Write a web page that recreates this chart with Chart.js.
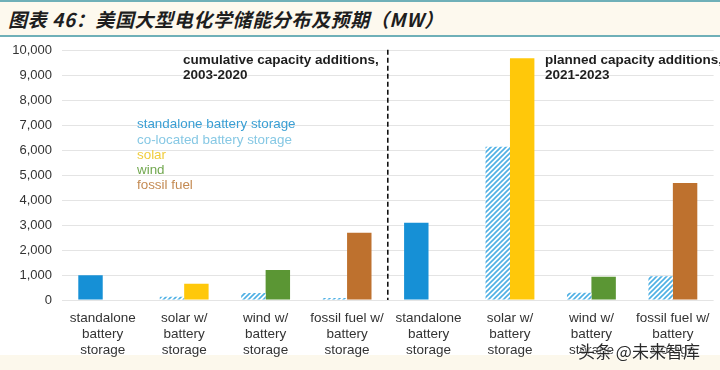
<!DOCTYPE html>
<html>
<head>
<meta charset="utf-8">
<script src="https://cdn.jsdelivr.net/npm/chart.js@4/dist/chart.umd.min.js"></script>
<style>
html,body{margin:0;padding:0;width:720px;height:370px;overflow:hidden;background:#fcf8ec;}
#hdr{position:absolute;left:0;top:0;width:720px;height:33px;border-top:2px solid #6fb0b8;border-bottom:2px solid #6fb0b8;background:#fdf9ee;box-sizing:content-box;}
#hdr span{position:absolute;left:8px;top:3px;font-family:"Noto Sans CJK SC","Liberation Sans",sans-serif;font-weight:bold;font-style:italic;font-size:19px;color:#1e1e1e;letter-spacing:0.6px;}
#panel{position:absolute;left:0;top:37px;width:720px;height:318px;background:#fff;}
#wrap{position:absolute;left:0;top:33px;width:720px;height:337px;}
#wm{position:absolute;left:578px;top:338px;font-family:"Noto Sans CJK SC",sans-serif;font-size:17px;color:#2a2a2a;text-shadow:0 0 2px #fff,0 0 2px #fff;}
</style>
</head>
<body>
<div id="hdr"><span>图表 46：美国大型电化学储能分布及预期（MW）</span></div>
<div id="panel"></div>
<div id="wrap"><canvas id="c" width="720" height="337"></canvas></div>
<div id="wm">头条 @未来智库</div>
<script>
const categories = [
  ["standalone","battery","storage"],
  ["solar w/","battery","storage"],
  ["wind w/","battery","storage"],
  ["fossil fuel w/","battery","storage"],
  ["standalone","battery","storage"],
  ["solar w/","battery","storage"],
  ["wind w/","battery","storage"],
  ["fossil fuel w/","battery","storage"]
];
// left bar in each group: standalone (solid) or co-located battery storage (hatched)
const batteryValues = [990, 130, 280, 80, 3100, 6150, 290, 950];
const isStandalone = [true, false, false, false, true, false, false, false];
// right bar in each group: paired generation type
const generationValues = [0, 650, 1200, 2700, 0, 9700, 930, 4700];
const generationType = ["none","solar","wind","fossil","none","solar","wind","fossil"];
const yTicks = [0,1000,2000,3000,4000,5000,6000,7000,8000,9000,10000];
const legendItems = ["standalone battery storage","co-located battery storage","solar","wind","fossil fuel"];
const periodLabels = [["cumulative capacity additions,","2003-2020"],["planned capacity additions,","2021-2023"]];

const COLORS = {standalone:"#1690d6", hatch:"#4fb0e4", solar:"#ffc80a", wind:"#5b9634", fossil:"#be712e", none:"#ffffff"};
const legendColors = ["#3a9fd4","#86c8e4","#f0cc3c","#72a850","#c48a52"];

function makeHatch(){
  const p = document.createElement('canvas');
  p.width = 5; p.height = 5;
  const g = p.getContext('2d');
  g.fillStyle = '#ffffff'; g.fillRect(0,0,5,5);
  g.strokeStyle = COLORS.hatch; g.lineWidth = 1.6;
  g.beginPath();
  g.moveTo(-1,6); g.lineTo(6,-1);
  g.moveTo(-1,1); g.lineTo(1,-1);
  g.moveTo(4,6); g.lineTo(6,4);
  g.stroke();
  return g.createPattern(p,'repeat');
}
const hatch = makeHatch();

const overlay = {
  id:'overlay',
  afterDatasetsDraw(chart){
    const {ctx, chartArea, scales:{x,y}} = chart;
    ctx.save();
    // dashed divider between the two periods
    const xd = (x.getPixelForValue(3) + x.getPixelForValue(4))/2;
    ctx.strokeStyle = '#111';
    ctx.lineWidth = 1.6;
    ctx.setLineDash([5,3]);
    ctx.beginPath();
    ctx.moveTo(xd, chartArea.top - 1);
    ctx.lineTo(xd, chartArea.bottom);
    ctx.stroke();
    ctx.setLineDash([]);
    // period labels
    ctx.fillStyle = '#1e1e1e';
    ctx.font = 'bold 13.5px "Liberation Sans", Arial, sans-serif';
    ctx.textBaseline = 'middle';
    ctx.textAlign = 'left';
    const x1 = chartArea.left + 121, x2 = chartArea.left + 483;
    periodLabels[0].forEach((t,i)=>ctx.fillText(t, x1, chartArea.top + 9 + i*15));
    periodLabels[1].forEach((t,i)=>ctx.fillText(t, x2, chartArea.top + 9 + i*15));
    // coloured-text legend
    ctx.font = '13.4px "Liberation Sans", Arial, sans-serif';
    legendItems.forEach((t,i)=>{
      ctx.fillStyle = legendColors[i];
      ctx.fillText(t, chartArea.left + 75, chartArea.top + 74 + i*15.1);
    });
    ctx.restore();
  }
};

new Chart(document.getElementById('c'), {
  type:'bar',
  data:{
    labels: categories,
    datasets:[
      {
        label:'battery storage',
        data: batteryValues,
        backgroundColor: batteryValues.map((v,i)=> isStandalone[i] ? COLORS.standalone : hatch),
        borderWidth:0
      },
      {
        label:'generation',
        data: generationValues,
        backgroundColor: generationType.map(t=>COLORS[t]),
        borderWidth:0
      }
    ]
  },
  options:{
    responsive:false,
    animation:false,
    layout:{padding:{left:0,right:6,top:7,bottom:0}},
    datasets:{bar:{categoryPercentage:0.6, barPercentage:1.0}},
    plugins:{legend:{display:false}, tooltip:{enabled:false}},
    scales:{
      x:{
        grid:{display:false, drawTicks:false},
        border:{display:false},
        ticks:{color:'#333', font:{family:'"Liberation Sans", Arial, sans-serif', size:13.5}, padding:10, maxRotation:0, autoSkip:false},
        afterFit(s){ s.height = 70; }
      },
      y:{
        min:0, max:10000,
        afterBuildTicks(s){ s.ticks = yTicks.map(v=>({value:v})); },
        grid:{color:'#e4e4e4', drawTicks:false, lineWidth:1},
        border:{display:false},
        ticks:{color:'#333', font:{family:'"Liberation Sans", Arial, sans-serif', size:13}, padding:10,
          callback:v=>v.toLocaleString('en-US')},
        afterFit(s){ s.width = 62; }
      }
    }
  },
  plugins:[overlay]
});
</script>
</body>
</html>
